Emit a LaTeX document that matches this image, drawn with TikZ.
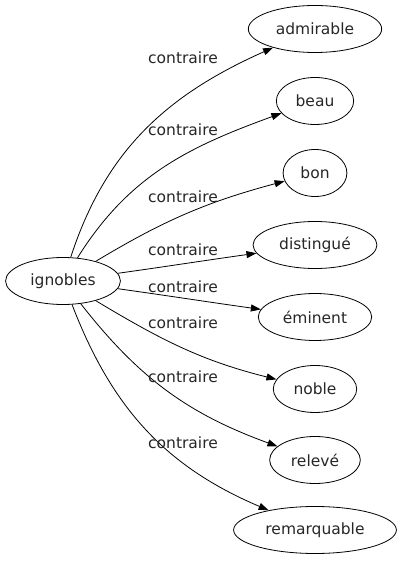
\documentclass[tikz,border=0pt]{standalone}
\usepackage{fontspec}
\newfontfamily\dejavu{DejaVu Sans}
\usetikzlibrary{shapes.geometric,arrows.meta}

\begin{document}
\begin{tikzpicture}[
  x=1pt, y=1pt,
  wd/.style={ellipse, draw, line width=0.8pt, inner xsep=8pt, minimum height=47pt,
    font=\dejavu\fontsize{15.5pt}{18pt}\selectfont, text=black!85},
  rel/.style={font=\dejavu\fontsize{15.5pt}{18pt}\selectfont, text=black!85},
  arr/.style={line width=0.8pt, -{Triangle[length=10pt, width=7pt]}},
]
\useasboundingbox (0,0) rectangle (400,563);

% ====== Source word (left) ======
\node[wd] (ign) at (63,282) {ignobles};

% ====== Opposite words (right column) ======
\foreach \name/\word/\y in {adm/admirable/534, beau/beau/462, bon/bon/390,
    dist/distingué/318, emin/éminent/246, noble/noble/174, relv/relevé/103,
    rem/remarquable/33} {
  \node[wd] (\name) at (315,\y) {\word};
}

% ====== Relations ======
\foreach \name/\o/\i/\ly in {adm/72/204/505, beau/58/200/433, bon/31/195/366,
    dist/8/188/313, emin/-8/172/276, noble/-31/166/240, relv/-52/160/186,
    rem/-69/157/120} {
  \draw[arr] (ign) to[out=\o, in=\i] (\name);
  \node[rel] (l-\name) at (183,\ly) {contraire};
}

\end{tikzpicture}
\end{document}
